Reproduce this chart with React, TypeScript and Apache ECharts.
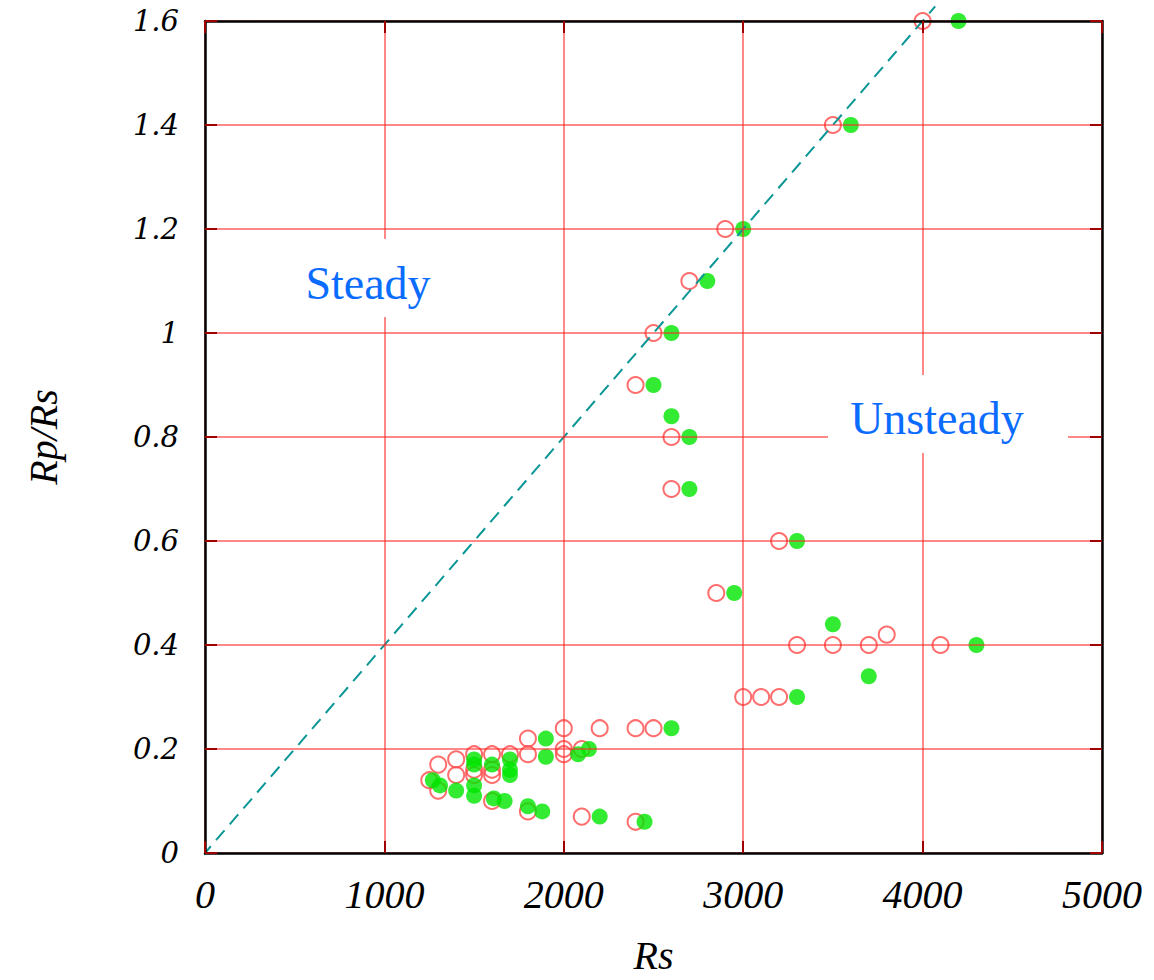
import React, { useEffect, useRef } from "react";
import * as echarts from "echarts";

// Red open circles
const openRs = [1250, 1300, 1300, 1400, 1400, 1500, 1500, 1500, 1600, 1600, 1600, 1600, 1700, 1800, 1800, 1800, 2000, 2000, 2000, 2100, 2100, 2200, 2400, 2500, 2400, 2400, 2500, 2600, 2600, 2700, 2850, 2900, 3000, 3100, 3200, 3200, 3300, 3500, 3500, 3700, 3800, 4000, 4100];
const openRatio = [0.14, 0.17, 0.12, 0.18, 0.15, 0.19, 0.16, 0.15, 0.19, 0.16, 0.15, 0.10, 0.19, 0.22, 0.19, 0.08, 0.24, 0.20, 0.19, 0.20, 0.07, 0.24, 0.24, 0.24, 0.06, 0.9, 1.0, 0.8, 0.7, 1.1, 0.5, 1.2, 0.3, 0.3, 0.3, 0.6, 0.4, 0.4, 1.4, 0.4, 0.42, 1.6, 0.4];

// Green filled circles
const filledRs = [1270, 1310, 1400, 1500, 1500, 1500, 1500, 1600, 1610, 1670, 1700, 1700, 1700, 1800, 1880, 1900, 1900, 2080, 2140, 2200, 2450, 2600, 2600, 2600, 2700, 2700, 2500, 2800, 2950, 3000, 3300, 3300, 3500, 3600, 3700, 4200, 4300];
const filledRatio = [0.14, 0.13, 0.12, 0.18, 0.17, 0.13, 0.11, 0.17, 0.105, 0.10, 0.18, 0.16, 0.15, 0.09, 0.08, 0.22, 0.185, 0.19, 0.20, 0.07, 0.06, 0.24, 0.84, 1.0, 0.8, 0.7, 0.9, 1.1, 0.5, 1.2, 0.6, 0.3, 0.44, 1.4, 0.34, 1.6, 0.4];

// Boundary line Rp/Rs = Rs / 2500
const boundaryRs = [-15, 4070];
const boundaryRatio = [-0.006, 1.628];

const xTicks = { min: 0, max: 5000, interval: 1000 };
const yTicks = { min: 0, max: 1.6, interval: 0.2 };

const GRID_COLOR = "rgba(255,40,40,0.55)";
const TICK_COLOR = "#a00000";

export default function App() {
  const ref = useRef<HTMLDivElement>(null);
  useEffect(() => {
    if (!ref.current) return;
    const chart = echarts.init(ref.current, null, { renderer: "svg" });
    const openData = openRs.map((x, i) => [x, openRatio[i]]);
    const filledData = filledRs.map((x, i) => [x, filledRatio[i]]);
    const lineData = boundaryRs.map((x, i) => [x, boundaryRatio[i]]);

    const baseAxisLine = { show: true, onZero: false, lineStyle: { color: "#000", width: 2.5 } };
    const baseTick = { show: true, inside: true, length: 12, lineStyle: { color: TICK_COLOR, width: 2 } };

    chart.setOption({
      animation: false,
      backgroundColor: "#fff",
      grid: { left: 205, right: 52, top: 21, bottom: 121, containLabel: false },
      xAxis: [
        {
          type: "value",
          position: "bottom",
          ...xTicks,
          axisLine: baseAxisLine,
          axisTick: baseTick,
          splitLine: { show: true, lineStyle: { color: GRID_COLOR, width: 2 } },
          axisLabel: {
            margin: 21,
            fontFamily: "Liberation Serif",
            fontStyle: "italic",
            fontSize: 40,
            color: "#000",
            showMinLabel: true,
            showMaxLabel: true,
            formatter: (v: number) => String(v),
          },
          name: "Rs",
          nameLocation: "middle",
          nameGap: 82,
          nameTextStyle: { fontFamily: "Liberation Serif", fontStyle: "italic", fontSize: 40, color: "#000" },
          z: 10,
        },
        {
          type: "value",
          position: "top",
          ...xTicks,
          axisLine: baseAxisLine,
          axisTick: baseTick,
          splitLine: { show: false },
          axisLabel: { show: false },
          z: 10,
        },
      ],
      yAxis: [
        {
          type: "value",
          position: "left",
          ...yTicks,
          axisLine: baseAxisLine,
          axisTick: baseTick,
          splitLine: { show: true, lineStyle: { color: GRID_COLOR, width: 2 } },
          axisLabel: {
            margin: 26,
            fontFamily: "DejaVu Serif",
            fontStyle: "italic",
            fontSize: 29,
            color: "#000",
            formatter: (v: number) => String(parseFloat(v.toFixed(1))),
          },
          name: "Rp/Rs",
          nameLocation: "middle",
          nameRotate: 90,
          nameGap: 142,
          nameTextStyle: { fontFamily: "Liberation Serif", fontStyle: "italic", fontSize: 40, color: "#000" },
          z: 10,
        },
        {
          type: "value",
          position: "right",
          ...yTicks,
          axisLine: baseAxisLine,
          axisTick: baseTick,
          splitLine: { show: false },
          axisLabel: { show: false },
          z: 10,
        },
      ],
      graphic: [
        { type: "rect", shape: { x: 295, y: 239, width: 146, height: 78 }, style: { fill: "#fff" }, z: 50 },
        {
          type: "text",
          x: 368,
          y: 283,
          style: {
            text: "Steady",
            fill: "#0a6cff",
            font: "46px 'Liberation Serif'",
            textAlign: "center",
            textVerticalAlign: "middle",
          },
          z: 51,
        },
        { type: "rect", shape: { x: 828, y: 375, width: 240, height: 78 }, style: { fill: "#fff" }, z: 50 },
        {
          type: "text",
          x: 937,
          y: 418,
          style: {
            text: "Unsteady",
            fill: "#0a6cff",
            font: "46px 'Liberation Serif'",
            textAlign: "center",
            textVerticalAlign: "middle",
          },
          z: 51,
        },
      ],
      series: [
        {
          type: "scatter",
          name: "open",
          data: openData,
          symbol: "circle",
          symbolSize: 16,
          itemStyle: { color: "rgba(0,0,0,0)", borderColor: "#ff4a4a", borderWidth: 2 },
          z: 3,
        },
        {
          type: "scatter",
          name: "filled",
          data: filledData,
          symbol: "circle",
          symbolSize: 16,
          itemStyle: { color: "#00e600", borderWidth: 0 },
          z: 4,
        },
        {
          type: "line",
          name: "boundary",
          data: lineData,
          showSymbol: false,
          symbol: "none",
          clip: false,
          lineStyle: { color: "#0a9696", width: 2, type: [13, 8] },
          z: 5,
        },
      ],
    });
    return () => chart.dispose();
  }, []);
  return (
    <div
      ref={ref}
      style={{ position: "fixed", left: 0, top: 0, width: 1154, height: 980, background: "#fff" }}
    />
  );
}
